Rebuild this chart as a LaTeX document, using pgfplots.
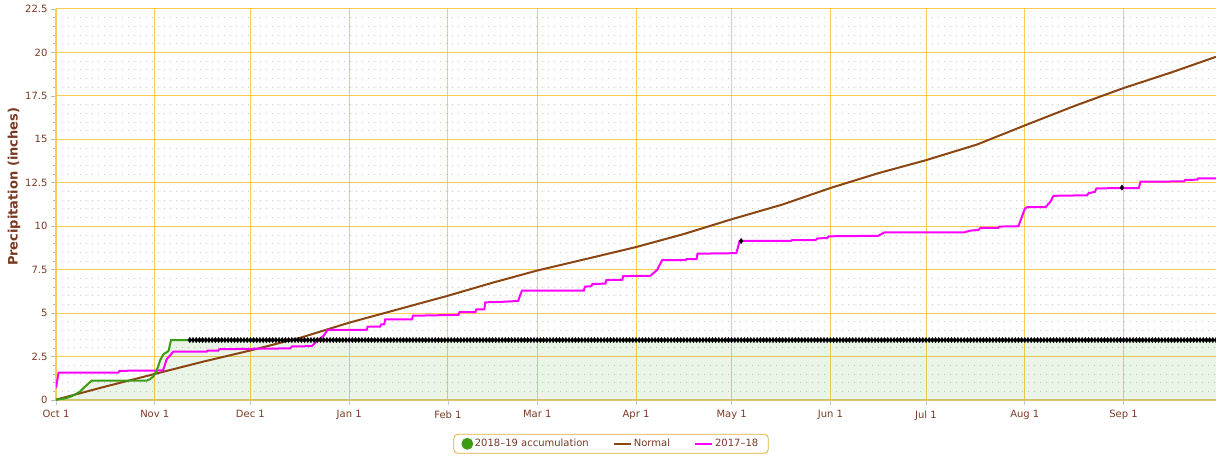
\documentclass[border=0pt]{standalone}
\usepackage{pgfplots}
\pgfplotsset{compat=1.18}
\usepackage{fontspec}
\setmainfont{DejaVu Sans}
\definecolor{gridgold}{RGB}{250,205,80}
\definecolor{axtan}{RGB}{222,198,120}
\definecolor{txtbrown}{RGB}{120,58,35}
\definecolor{normbrown}{RGB}{139,69,19}
\definecolor{accgreen}{RGB}{60,155,20}
\definecolor{minorgray}{RGB}{200,200,200}
\definecolor{tickblue}{RGB}{195,200,225}
\definecolor{legborder}{RGB}{225,175,60}
\definecolor{magline}{RGB}{255,0,255}
\begin{document}
\begin{tikzpicture}[x=1pt,y=1pt]
\useasboundingbox (0,0) rectangle (1216,456);
\begin{axis}[
  at={(56pt,56pt)}, anchor=south west,
  scale only axis, width=1160pt, height=391pt,
  xmin=0, xmax=364, ymin=0, ymax=22.5,
  axis x line*=bottom, axis y line*=left,
  x axis line style={draw=axtan, line width=1.5pt, -},
  y axis line style={draw=gridgold, line width=1.1pt, -},
  xtick={0,31,61,92,123,151,182,212,243,273,304,335},
  xticklabels={Oct 1,Nov 1,Dec 1,Jan 1,Feb 1,Mar 1,Apr 1,May 1,Jun 1,Jul 1,Aug 1,Sep 1},
  ytick={0,2.5,5,7.5,10,12.5,15,17.5,20,22.5},
  yticklabels={0,2.5,5,7.5,10,12.5,15,17.5,20,22.5},
  minor ytick={0.5,1,1.5,2,3,3.5,4,4.5,5.5,6,6.5,7,8,8.5,9,9.5,10.5,11,11.5,12,13,13.5,14,14.5,15.5,16,16.5,17,18,18.5,19,19.5,20.5,21,21.5,22},
  xmajorgrids, ymajorgrids, yminorgrids,
  major grid style={draw=gridgold, line width=1pt},
  minor grid style={draw=minorgray, line width=0.8pt, dash pattern=on 1pt off 5pt},
  tick align=outside,
  xtick pos=bottom, ytick pos=left,
  major tick length=5pt, minor tick length=3pt,
  x tick style={draw=tickblue, line width=0.9pt},
  y tick style={draw=gray!55, line width=0.7pt},
  tick label style={font=\fontsize{10}{12}\selectfont, text=txtbrown},
  xticklabel style={yshift=-2pt},
  /pgf/number format/assume math mode=true,
  ylabel={Precipitation (inches)},
  ylabel style={at={(axis description cs:-0.0362,0.545)}, anchor=center, font=\bfseries\fontsize{13}{15}\selectfont, text=txtbrown},
  legend style={at={(0.4785,-0.112)}, anchor=center, draw=legborder, line width=0.8pt, rounded corners=4pt,
    font=\fontsize{10}{12}\selectfont, text=txtbrown, legend columns=3,
    /tikz/every even column/.append style={column sep=22pt}, inner xsep=8pt, inner ysep=3pt},
  legend cell align=left,
]
\addplot[draw=none, fill=accgreen, fill opacity=0.1, forget plot] coordinates {
(0,0.02)(3,0.1)(5,0.22)(7.5,0.48)(9,0.75)(10.5,1.0)(11.2,1.11)(28.3,1.11)(29.5,1.2)(30.5,1.35)(31.2,1.55)(32,1.9)(32.7,2.3)(33.7,2.63)(35.3,2.82)(36.1,3.45)(42,3.45)(364,3.45)} \closedcycle;
\addplot[normbrown, line width=2pt, forget plot] coordinates {
(0,0.02)(15,0.75)(31,1.5)(46,2.2)(61,2.85)(77,3.6)(92,4.45)(107,5.2)(123,6.0)(137,6.75)(151,7.45)(166,8.1)(182,8.8)(197,9.55)(212,10.4)(228,11.25)(243,12.2)(258,13.05)(273,13.8)(289,14.7)(304,15.8)(320,16.95)(335,17.95)(350,18.85)(364,19.75)};
\addplot[magline, line width=2pt, forget plot] coordinates {
(0,0.69)(0.8,1.57)(19.5,1.57)(20,1.68)(33.6,1.7)(34.7,2.34)(35.5,2.5)(36.8,2.78)(47.3,2.78)(47.6,2.84)(50.9,2.84)(51.2,2.92)(62,2.95)(73.5,2.97)(74,3.08)(80.3,3.1)(81.8,3.39)(84,3.7)(85.2,4.03)(97.5,4.03)(97.8,4.22)(101.7,4.22)(102,4.35)(103,4.35)(103.3,4.64)(111.7,4.64)(112,4.85)(118,4.87)(126.3,4.9)(126.6,5.05)(131.6,5.05)(131.9,5.22)(134.4,5.22)(134.7,5.62)(140,5.65)(145,5.7)(146.2,6.29)(165.6,6.29)(166,6.52)(168,6.55)(168.3,6.67)(172.4,6.7)(172.7,6.9)(177.7,6.92)(178,7.13)(186.5,7.15)(188.6,7.48)(190.2,8.05)(197.5,8.05)(197.8,8.1)(201,8.1)(201.3,8.42)(213.5,8.45)(214.5,9.15)(230.5,9.15)(231,9.2)(238.3,9.2)(239,9.3)(242,9.32)(242.5,9.42)(258,9.45)(260,9.65)(285,9.65)(287,9.75)(289.5,9.78)(290,9.9)(295.7,9.9)(296,9.98)(302,10.0)(303,10.5)(304,11.0)(304.8,11.1)(310.5,11.1)(312,11.4)(313,11.75)(323.6,11.78)(324,11.9)(326,11.98)(326.5,12.18)(339.8,12.2)(340.3,12.56)(354,12.58)(354.3,12.66)(358.1,12.68)(358.4,12.76)(364,12.76)};
\addplot[accgreen, line width=2pt, forget plot] coordinates {
(0,0.02)(3,0.1)(5,0.22)(7.5,0.48)(9,0.75)(10.5,1.0)(11.2,1.11)(28.3,1.11)(29.5,1.2)(30.5,1.35)(31.2,1.55)(32,1.9)(32.7,2.3)(33.7,2.63)(35.3,2.82)(36.1,3.45)(42,3.45)};
\addplot[only marks, mark=diamond*, mark size=2.6pt, black, forget plot] coordinates {
(42,3.45)(43,3.45)(44,3.45)(45,3.45)(46,3.45)(47,3.45)(48,3.45)(49,3.45)(50,3.45)(51,3.45)(52,3.45)(53,3.45)(54,3.45)(55,3.45)(56,3.45)(57,3.45)(58,3.45)(59,3.45)
(60,3.45)(61,3.45)(62,3.45)(63,3.45)(64,3.45)(65,3.45)(66,3.45)(67,3.45)(68,3.45)(69,3.45)(70,3.45)(71,3.45)(72,3.45)(73,3.45)(74,3.45)(75,3.45)(76,3.45)(77,3.45)(78,3.45)(79,3.45)
(80,3.45)(81,3.45)(82,3.45)(83,3.45)(84,3.45)(85,3.45)(86,3.45)(87,3.45)(88,3.45)(89,3.45)(90,3.45)(91,3.45)(92,3.45)(93,3.45)(94,3.45)(95,3.45)(96,3.45)(97,3.45)(98,3.45)(99,3.45)
(100,3.45)(101,3.45)(102,3.45)(103,3.45)(104,3.45)(105,3.45)(106,3.45)(107,3.45)(108,3.45)(109,3.45)(110,3.45)(111,3.45)(112,3.45)(113,3.45)(114,3.45)(115,3.45)(116,3.45)(117,3.45)(118,3.45)(119,3.45)
(120,3.45)(121,3.45)(122,3.45)(123,3.45)(124,3.45)(125,3.45)(126,3.45)(127,3.45)(128,3.45)(129,3.45)(130,3.45)(131,3.45)(132,3.45)(133,3.45)(134,3.45)(135,3.45)(136,3.45)(137,3.45)(138,3.45)(139,3.45)
(140,3.45)(141,3.45)(142,3.45)(143,3.45)(144,3.45)(145,3.45)(146,3.45)(147,3.45)(148,3.45)(149,3.45)(150,3.45)(151,3.45)(152,3.45)(153,3.45)(154,3.45)(155,3.45)(156,3.45)(157,3.45)(158,3.45)(159,3.45)
(160,3.45)(161,3.45)(162,3.45)(163,3.45)(164,3.45)(165,3.45)(166,3.45)(167,3.45)(168,3.45)(169,3.45)(170,3.45)(171,3.45)(172,3.45)(173,3.45)(174,3.45)(175,3.45)(176,3.45)(177,3.45)(178,3.45)(179,3.45)
(180,3.45)(181,3.45)(182,3.45)(183,3.45)(184,3.45)(185,3.45)(186,3.45)(187,3.45)(188,3.45)(189,3.45)(190,3.45)(191,3.45)(192,3.45)(193,3.45)(194,3.45)(195,3.45)(196,3.45)(197,3.45)(198,3.45)(199,3.45)
(200,3.45)(201,3.45)(202,3.45)(203,3.45)(204,3.45)(205,3.45)(206,3.45)(207,3.45)(208,3.45)(209,3.45)(210,3.45)(211,3.45)(212,3.45)(213,3.45)(214,3.45)(215,3.45)(216,3.45)(217,3.45)(218,3.45)(219,3.45)
(220,3.45)(221,3.45)(222,3.45)(223,3.45)(224,3.45)(225,3.45)(226,3.45)(227,3.45)(228,3.45)(229,3.45)(230,3.45)(231,3.45)(232,3.45)(233,3.45)(234,3.45)(235,3.45)(236,3.45)(237,3.45)(238,3.45)(239,3.45)
(240,3.45)(241,3.45)(242,3.45)(243,3.45)(244,3.45)(245,3.45)(246,3.45)(247,3.45)(248,3.45)(249,3.45)(250,3.45)(251,3.45)(252,3.45)(253,3.45)(254,3.45)(255,3.45)(256,3.45)(257,3.45)(258,3.45)(259,3.45)
(260,3.45)(261,3.45)(262,3.45)(263,3.45)(264,3.45)(265,3.45)(266,3.45)(267,3.45)(268,3.45)(269,3.45)(270,3.45)(271,3.45)(272,3.45)(273,3.45)(274,3.45)(275,3.45)(276,3.45)(277,3.45)(278,3.45)(279,3.45)
(280,3.45)(281,3.45)(282,3.45)(283,3.45)(284,3.45)(285,3.45)(286,3.45)(287,3.45)(288,3.45)(289,3.45)(290,3.45)(291,3.45)(292,3.45)(293,3.45)(294,3.45)(295,3.45)(296,3.45)(297,3.45)(298,3.45)(299,3.45)
(300,3.45)(301,3.45)(302,3.45)(303,3.45)(304,3.45)(305,3.45)(306,3.45)(307,3.45)(308,3.45)(309,3.45)(310,3.45)(311,3.45)(312,3.45)(313,3.45)(314,3.45)(315,3.45)(316,3.45)(317,3.45)(318,3.45)(319,3.45)
(320,3.45)(321,3.45)(322,3.45)(323,3.45)(324,3.45)(325,3.45)(326,3.45)(327,3.45)(328,3.45)(329,3.45)(330,3.45)(331,3.45)(332,3.45)(333,3.45)(334,3.45)(335,3.45)(336,3.45)(337,3.45)(338,3.45)(339,3.45)
(340,3.45)(341,3.45)(342,3.45)(343,3.45)(344,3.45)(345,3.45)(346,3.45)(347,3.45)(348,3.45)(349,3.45)(350,3.45)(351,3.45)(352,3.45)(353,3.45)(354,3.45)(355,3.45)(356,3.45)(357,3.45)(358,3.45)(359,3.45)
(360,3.45)(361,3.45)(362,3.45)(363,3.45)(364,3.45)};
\addplot[only marks, mark=diamond*, mark size=2.6pt, black, forget plot] coordinates {(215,9.15)(334.5,12.22)};
\addlegendimage{only marks, mark=*, mark size=5.5pt, accgreen}
\addlegendentry{2018--19 accumulation}
\addlegendimage{normbrown, line width=2pt}
\addlegendentry{Normal}
\addlegendimage{magline, line width=2pt}
\addlegendentry{2017--18}
\end{axis}
\end{tikzpicture}
\end{document}
